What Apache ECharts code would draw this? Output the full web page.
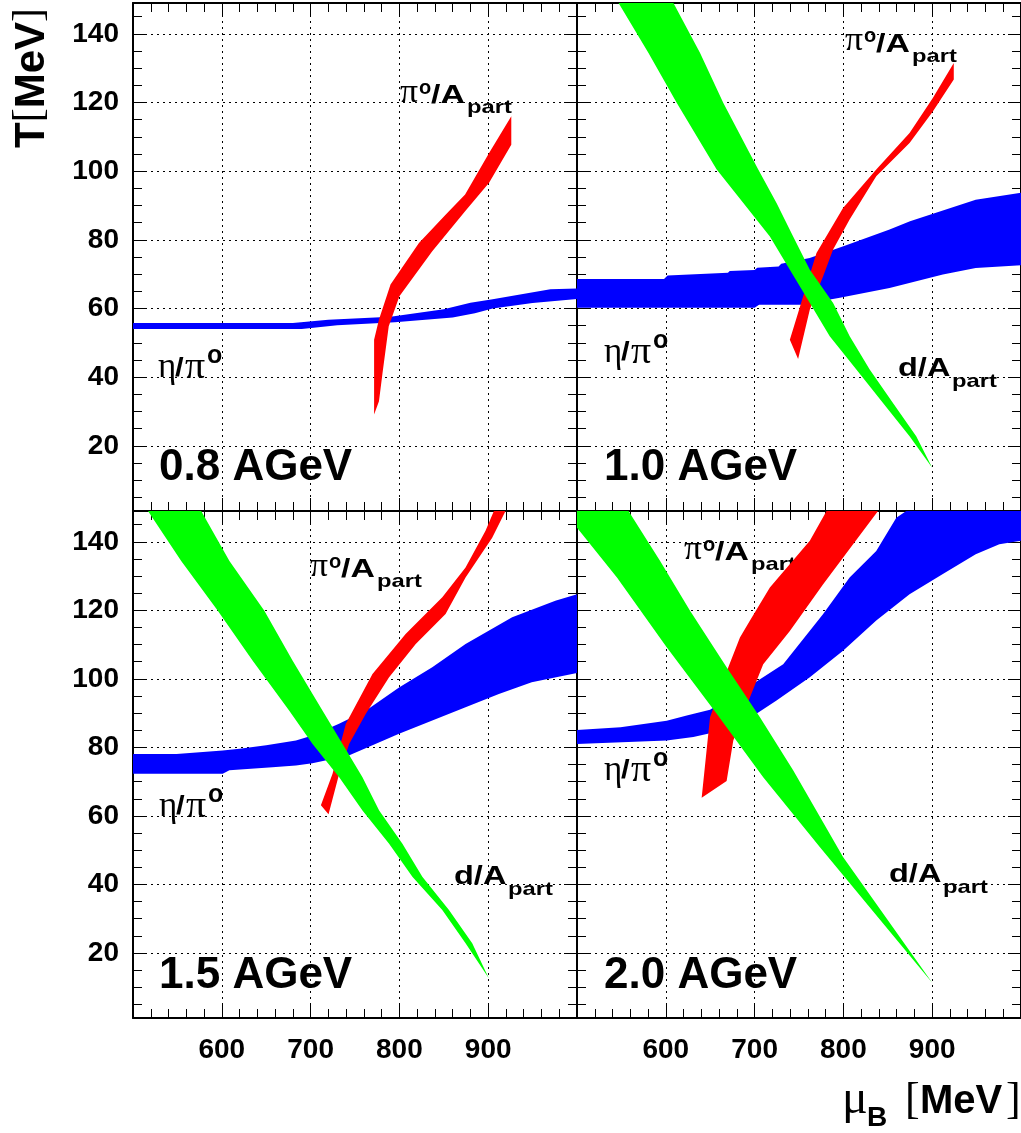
<!DOCTYPE html>
<html>
<head>
<meta charset="utf-8">
<script src="https://cdn.jsdelivr.net/npm/echarts@6.0.0/dist/echarts.min.js"></script>
<style>
  html, body { margin: 0; padding: 0; background: #fff; }
  #chart { width: 1021px; height: 1133px; }
</style>
</head>
<body>
<div id="chart"></div>
<script>
// tick values
const muRange = [500, 1000];
const tRange = [1, 149];
const tTicks = [20, 40, 60, 80, 100, 120, 140];
const tMinorTicks = [5, 10, 15, 25, 30, 35, 45, 50, 55, 65, 70, 75, 85, 90, 95, 105, 110, 115, 125, 130, 135, 145];
const panelNames = ['0.8 AGeV', '1.0 AGeV', '1.5 AGeV', '2.0 AGeV'];

// ---- 0.8 AGeV ----
const eta08Upper = [[500, 55.8], [680, 55.8], [720, 56.7], [790, 57.6], [850, 59.8], [880, 61.7], [905, 62.7], [970, 65.6], [1000, 65.8]];
const eta08Lower = [[500, 54.0], [690, 54.0], [730, 55.1], [795, 56.0], [860, 57.4], [885, 58.6], [905, 60.0], [950, 61.6], [1000, 62.8]];
const pi08Left = [[771.5, 29.1], [771.5, 50.9], [777, 56.8], [790, 67.0], [822, 79.1], [852, 87.3], [874, 93.2], [901, 105.3], [926, 116.0]];
const pi08Right = [[926, 107.7], [901, 96.6], [874, 88.3], [837, 76.7], [800, 63.6], [788, 54.8], [781, 41.2], [777, 33.0]];

// ---- 1.0 AGeV ----
const eta10Upper = [[500, 68.6], [598, 68.6], [602, 69.6], [670, 70.4], [672, 70.9], [700, 71.2], [703, 71.9], [727, 72.2], [730, 73.0], [762, 74.7], [800, 78.1], [852, 83.0], [875, 85.4], [949, 91.7], [1000, 93.7]];
const eta10Lower = [[500, 60.2], [700, 60.2], [705, 61.1], [752, 61.1], [796, 63.1], [852, 66.0], [912, 69.9], [949, 71.8], [1000, 72.6]];
const pi10Left = [[739.7, 50.9], [754.7, 63.6], [769.7, 76.2], [799.6, 89.3], [837, 100.5], [874.5, 111.1], [900.7, 121.3], [924.3, 131.5]];
const pi10Right = [[924.3, 126.7], [900.7, 117.4], [874.5, 108.2], [837, 98.5], [807, 85.9], [788.4, 77.2], [777.2, 69.4], [762.2, 59.7], [749, 45.3]];
const d10Left = [[546.8, 149], [580.5, 134.4], [612.4, 119.9], [657.3, 100.5], [687.3, 90.7], [717.2, 81], [739.7, 71.3], [762.2, 61.6], [784.6, 51.9], [814.6, 42.2], [844.6, 32.5], [874.5, 22.8], [900, 13.6]];
const d10Right = [[882, 22.8], [855.8, 32.5], [829.6, 42.2], [807.1, 51.9], [788.4, 61.6], [762.2, 71.3], [743.4, 81], [724.7, 90.7], [704.1, 100.5], [664.8, 119.9], [638.6, 134.4], [608.6, 149]];

// ---- 1.5 AGeV ----
const eta15Upper = [[500, 78.1], [549, 78.1], [601, 79.1], [620, 79.6], [650, 80.6], [683.5, 82], [702, 83.5], [732, 86.9], [762, 90.7], [799.6, 97.5], [837, 103.4], [874.5, 110.2], [927, 118], [975.6, 122.8], [1000, 124.7]];
const eta15Lower = [[500, 72.3], [601, 72.3], [608.6, 73.3], [657, 74.2], [683.5, 74.7], [702, 75.4], [743, 77.6], [799.6, 84], [874.5, 91.7], [912, 95.6], [949, 99], [1000, 101.7]];
const pi15Left = [[711.6, 63.1], [724.7, 72.3], [739.7, 86.9], [769.7, 101.4], [807, 113.1], [848.3, 123.8], [874.5, 132.5], [897, 143.2], [906.4, 149]];
const pi15Right = [[919.5, 149], [904.5, 141.2], [874.5, 129.6], [852, 118.9], [818.4, 110.2], [788.4, 100.5], [762.2, 89.8], [743.4, 81], [732.2, 72.3], [720.2, 60.5]];
const d15Left = [[516.9, 149], [554.3, 134.4], [595.5, 119.9], [634.8, 105.3], [676, 90.7], [702.2, 81], [732.2, 71.3], [758.4, 61.6], [788.4, 51.9], [814.6, 42.2], [848.3, 32.5], [874.5, 22.8], [900.7, 12.6]];
const d15Right = [[882, 22.8], [855.8, 32.5], [825.8, 42.2], [803.4, 51.9], [777.2, 61.6], [758.4, 71.3], [736, 81], [713.5, 90.7], [679.8, 105.3], [647.9, 119.9], [608.6, 134.4], [576.8, 149]];

// ---- 2.0 AGeV ----
const eta20Upper = [[500, 85.1], [549, 85.9], [601, 87.8], [623.6, 89.3], [649.8, 91], [694.8, 98], [732.2, 104.3], [777.2, 118.9], [807, 129.6], [837, 137.3], [859.6, 147], [870.8, 149], [1000, 149]];
const eta20Lower = [[500, 81], [601, 82], [631, 83], [649.8, 84.1], [702, 89.8], [724.7, 93.7], [762.2, 100.5], [799.6, 108.2], [837, 117], [874.5, 124.7], [912, 130.6], [949, 136.4], [975.6, 139.3], [1000, 140.3]];
const pi20Left = [[640.4, 65.3], [649.8, 88.8], [670.4, 103.4], [683.5, 112.1], [694.8, 117], [717.2, 126.7], [762.2, 140.3], [781, 149]];
const pi20Right = [[839, 149], [810.9, 139.3], [777.2, 127.6], [739.7, 114], [709.7, 104.3], [694.8, 94.6], [676, 82], [668.5, 70.2]];
const d20Left = [[500, 149], [500, 144.1], [545, 129.6], [601, 109.2], [657.3, 89.8], [709.7, 71.3], [773.4, 50.9], [900, 11.3]];
const d20Right = [[799.6, 48], [743.4, 73.3], [706, 88.8], [668.5, 103.4], [627.3, 119.9], [593.6, 134.4], [558, 149]];

const panels = [
    { eta: [eta08Upper, eta08Lower], pi: [pi08Left, pi08Right], d: null },
    { eta: [eta10Upper, eta10Lower], pi: [pi10Left, pi10Right], d: [d10Left, d10Right] },
    { eta: [eta15Upper, eta15Lower], pi: [pi15Left, pi15Right], d: [d15Left, d15Right] },
    { eta: [eta20Upper, eta20Lower], pi: [pi20Left, pi20Right], d: [d20Left, d20Right] }
];

const SANS = "'Liberation Sans', Arial, Helvetica, sans-serif";
const SERIF = "'Liberation Serif', 'Times New Roman', serif";

const grids = [
    { left: 133, top: 3, width: 444, height: 508 },
    { left: 577, top: 3, width: 444, height: 508 },
    { left: 133, top: 511, width: 444, height: 507 },
    { left: 577, top: 511, width: 444, height: 507 }
].map(g => Object.assign(g, { outerBoundsMode: 'none', containLabel: false }));

const frameLine = { show: true, onZero: false, lineStyle: { color: '#000', width: 2 } };
const tickLine = { color: '#000', width: 1 };
const dotted = { color: '#000', width: 1, type: [2, 4] };
const labelFont = { color: '#000', fontFamily: SANS, fontWeight: 'bold', fontSize: 28 };

const xAxes = [];
const yAxes = [];
grids.forEach((g, i) => {
    const bottomRow = i >= 2;
    const leftCol = i % 2 === 0;
    ['bottom', 'top'].forEach(pos => {
        xAxes.push({
            gridIndex: i, type: 'value', position: pos,
            min: muRange[0], max: muRange[1], interval: 100,
            axisLine: frameLine,
            axisTick: { show: true, inside: true, length: 13, lineStyle: tickLine },
            minorTick: { show: true, splitNumber: 5, length: 9, lineStyle: tickLine },
            axisLabel: Object.assign({ show: pos === 'bottom' && bottomRow, showMinLabel: false, showMaxLabel: false, margin: 18 }, labelFont),
            splitLine: { show: pos === 'bottom', lineStyle: dotted }
        });
    });
    ['left', 'right'].forEach(pos => {
        yAxes.push({
            gridIndex: i, type: 'value', position: pos,
            min: tRange[0], max: tRange[1],
            axisLine: frameLine,
            axisTick: { show: true, inside: true, length: 13, customValues: tTicks, lineStyle: tickLine },
            axisLabel: Object.assign({ show: pos === 'left' && leftCol, customValues: tTicks, margin: 14 }, labelFont),
            splitLine: { show: pos === 'left', lineStyle: dotted }
        });
        yAxes.push({
            gridIndex: i, type: 'value', position: pos,
            min: tRange[0], max: tRange[1],
            axisLine: { show: false },
            axisTick: { show: true, inside: true, length: 9, customValues: tMinorTicks, lineStyle: tickLine },
            axisLabel: { show: false },
            splitLine: { show: false }
        });
    });
});

function band(i, outline, color) {
    return {
        type: 'custom',
        xAxisIndex: 2 * i,
        yAxisIndex: 4 * i,
        clip: true,
        silent: true,
        data: outline,
        renderItem: (params, api) => {
            if (params.dataIndex !== 0) return null;
            return {
                type: 'polygon',
                shape: { points: outline.map(p => api.coord(p)) },
                style: { fill: color, stroke: null }
            };
        }
    };
}

const series = [];
panels.forEach((p, i) => {
    series.push(band(i, p.eta[0].concat(p.eta[1].slice().reverse()), '#0000ff'));
    series.push(band(i, p.pi[0].concat(p.pi[1]), '#ff0000'));
    if (p.d) series.push(band(i, p.d[0].concat(p.d[1]), '#00ff00'));
});

// text helpers
function txt(text, x, y, size, serif, sx) {
    return {
        type: 'text', x: x, y: y, scaleX: sx || 1,
        style: {
            text: text, fill: '#000',
            font: (serif ? 'normal ' : 'bold ') + size + 'px ' + (serif ? SERIF : SANS),
            textAlign: 'left', textVerticalAlign: 'middle',
            align: 'left', verticalAlign: 'middle'
        }
    };
}
function group(x, y, children, rot) {
    return { type: 'group', x: x, y: y, rotation: rot || 0, z: 100, children: children };
}

const piLabelPos = [[400, 95], [845, 43.5], [310, 569], [684, 552]];
const etaLabelPos = [[158, 371.5], [604, 356], [159, 810], [604, 774]];
const dLabelPos = [null, [898, 367.5], [454, 876], [889, 874]];
const nameLabelPos = [[159, 468], [604, 468], [159, 976], [604, 976]];

const graphics = [];
for (let i = 0; i < 4; i++) {
    const pp = piLabelPos[i];
    graphics.push(group(pp[0], pp[1], [
        txt('π', 0, -2, 34, true, 1.05),
        txt('o', 19, -7, 20, false),
        txt('/A', 31, 1.3, 26, false, 1.3),
        txt('part', 67, 13, 19, false, 1.25)
    ]));
    const ep = etaLabelPos[i];
    graphics.push(group(ep[0], ep[1], [
        txt('η', 0, -3.5, 35, true),
        txt('/', 17, -3, 26, false, 1.2),
        txt('π', 27, -3, 38, true, 1.05),
        txt('o', 49, -15, 25, false)
    ]));
    if (dLabelPos[i]) {
        const dp = dLabelPos[i];
        graphics.push(group(dp[0], dp[1], [
            txt('d/A', 0, 1.3, 26, false, 1.25),
            txt('part', 54, 14, 19, false, 1.25)
        ]));
    }
    const np = nameLabelPos[i];
    graphics.push(group(np[0], np[1], [txt(panelNames[i], 0, 0, 44)]));
}
// axis titles
graphics.push(group(30, 148, [
    txt('T', 0, 2, 42),
    txt('[', 25.7, 0, 42, true),
    txt('MeV', 39.7, 2, 42),
    txt(']', 126, 0, 42, true)
], Math.PI / 2));
graphics.push(group(0, 0, [
    txt('μ', 842, 1100, 48, true),
    txt('B', 867, 1118, 28),
    txt('[', 905, 1101, 44, true),
    txt('MeV', 920, 1102, 40),
    txt(']', 1006, 1101, 44, true)
]));

const chart = echarts.init(document.getElementById('chart'), null, { renderer: 'canvas' });
chart.setOption({
    backgroundColor: '#fff',
    animation: false,
    grid: grids,
    xAxis: xAxes,
    yAxis: yAxes,
    series: series,
    graphic: { elements: graphics }
});
</script>
</body>
</html>
